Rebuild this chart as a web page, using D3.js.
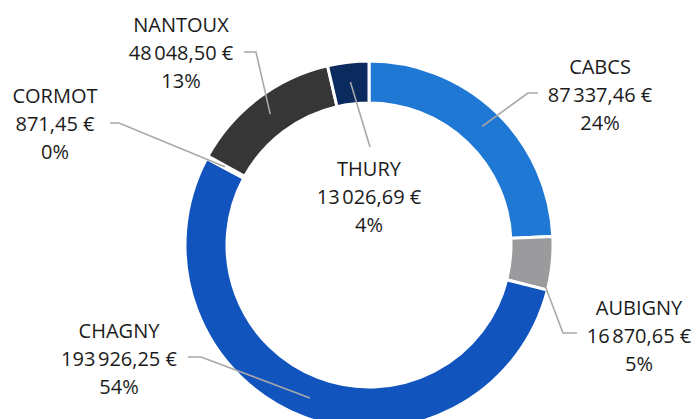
<!DOCTYPE html>
<html>
<head>
<meta charset="utf-8">
<script src="https://cdn.jsdelivr.net/npm/d3@7"></script>
<style>
  body { margin: 0; background: #fff; }
  svg { display: block; }
  .label text { font-family: 'Open Sans', sans-serif; font-size: 20px; fill: #1b1b1b; text-anchor: middle; }
  .leader { fill: none; stroke: #a8a8a8; stroke-width: 1.6; }
</style>
</head>
<body>
<svg width="697" height="419"></svg>
<script>
// data, clockwise from 12 o'clock
const names = ['CABCS', 'AUBIGNY', 'CHAGNY', 'CORMOT', 'NANTOUX', 'THURY'];
const amounts = [87337.46, 16870.65, 193926.25, 871.45, 48048.50, 13026.69];

const colors = ['#1f78d3', '#9b9b9d', '#1254be', '#6fa3dc', '#363636', '#0b2a5e'];

// label layout: text centre / first baseline, and the leader bend + end
const layout = {
  CABCS:   { x: 600, y: 74,  pts: [[528, 93], [538, 93]] },
  AUBIGNY: { x: 639, y: 315, pts: [[563, 333], [577, 333]], edge: true },
  CHAGNY:  { x: 119, y: 338, pts: [[201, 357], [188, 357]] },
  CORMOT:  { x: 55,  y: 103, pts: [[119, 123], [110, 123]] },
  NANTOUX: { x: 181, y: 32,  pts: [[256, 52], [244, 52]] },
  THURY:   { x: 369, y: 176, pts: [[370, 147]] },
};

const svg = d3.select('svg');
const cx = 369, cy = 245;
const outerR = 184, innerR = 142, anchorR = 164;

const fr = d3.formatLocale({
  decimal: ',',
  thousands: '\u202f',
  grouping: [3],
  currency: ['', '\u00a0€']
});
const money = fr.format('$,.2f');

const data = names.map((n, i) => ({ name: n, value: amounts[i], color: colors[i] }));
const total = d3.sum(amounts);

const pie = d3.pie()
  .value(d => d.value)
  .sort(null);

const arc = d3.arc()
  .innerRadius(innerR)
  .outerRadius(outerR);

const arcs = pie(data);

const g = svg.append('g')
  .attr('transform', `translate(${cx},${cy})`);

g.selectAll('path.slice')
  .data(arcs)
  .enter().append('path')
  .attr('class', 'slice')
  .attr('d', arc)
  .attr('fill', d => d.data.color)
  .attr('stroke', '#fff')
  .attr('stroke-width', 3);

// leader lines
svg.append('g')
  .selectAll('path')
  .data(arcs)
  .enter().append('path')
  .attr('class', 'leader')
  .attr('d', d => {
    const lay = layout[d.data.name];
    let a, r;
    if (lay.edge) {
      a = d.endAngle - 0.01; r = outerR - 2;
    } else {
      a = (d.startAngle + d.endAngle) / 2; r = anchorR;
    }
    const start = [cx + r * Math.sin(a), cy - r * Math.cos(a)];
    return d3.line()([start].concat(lay.pts));
  });

// labels
const lbl = svg.append('g')
  .attr('class', 'label')
  .selectAll('text')
  .data(arcs)
  .enter().append('text')
  .attr('x', d => layout[d.data.name].x)
  .attr('y', d => layout[d.data.name].y);

lbl.each(function(d) {
  const t = d3.select(this);
  const x = layout[d.data.name].x;
  const lines = [
    d.data.name,
    money(d.data.value),
    Math.round(d.data.value / total * 100) + '%'
  ];
  lines.forEach((s, i) => {
    t.append('tspan')
      .attr('x', x)
      .attr('dy', i === 0 ? 0 : 28)
      .text(s);
  });
});
</script>
</body>
</html>
